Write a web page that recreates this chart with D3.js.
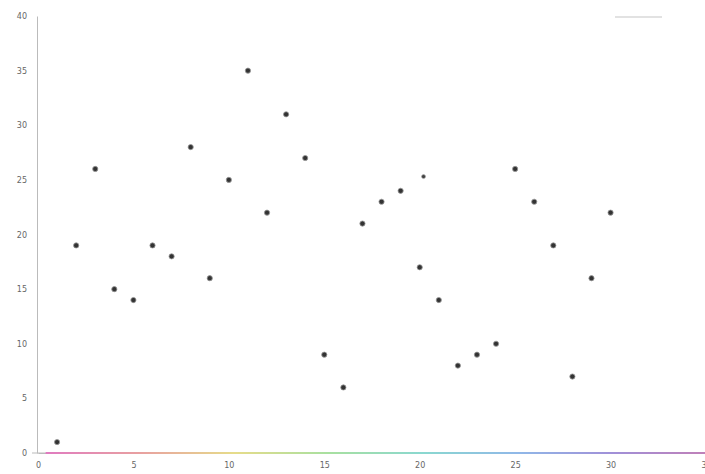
<!DOCTYPE html>
<html>
<head>
<meta charset="utf-8">
<script src="https://cdn.jsdelivr.net/npm/d3@7"></script>
<style>
  body { margin: 0; background: #fff; }
  svg { display: block; }
  .axis text { font-family: "DejaVu Sans", sans-serif; font-size: 8px; fill: #666; }
  .axis path, .axis line { stroke: #bbb; }
</style>
</head>
<body>
<div id="chart"></div>
<script>
// values
var xs = [1, 2, 3, 4, 5, 6, 7, 8, 9, 10, 11, 12, 13, 14, 15,
          16, 17, 18, 19, 20, 21, 22, 23, 24, 25, 26, 27, 28, 29, 30];
var ys = [1, 19, 26, 15, 14, 19, 18, 28, 16, 25, 35, 22, 31, 27, 9,
          6, 21, 23, 24, 17, 14, 8, 9, 10, 26, 23, 19, 7, 16, 22];
// one small odd point sitting near x = 20
var extraX = [20.2];
var extraY = [25.3];

var xTicks = [0, 5, 10, 15, 20, 25, 30, 35];
var yTicks = [0, 5, 10, 15, 20, 25, 30, 35, 40];

// colours of the base line, left to right
var baseColors = ["#e07bc0", "#e8a0a0", "#e6dc8a", "#a8e0a0", "#8ad8d0", "#90b8e8", "#a090d8", "#c080b8"];

const width = 705, height = 474;

const svg = d3.select("#chart").append("svg")
    .attr("width", width)
    .attr("height", height);

var x = d3.scaleLinear().domain([0, 35]).range([38, 706]);
var y = d3.scaleLinear().domain([0, 40]).range([453, 16]);

// y axis
svg.append("g")
    .attr("class", "axis")
    .attr("transform", "translate(37,0)")
    .call(d3.axisLeft(y).tickValues(yTicks).tickSize(0).tickPadding(10))
    .call(g => g.select(".domain").attr("stroke", "#c8c8c8"));

// x axis
svg.append("g")
    .attr("class", "axis")
    .attr("transform", "translate(0,453)")
    .call(d3.axisBottom(x).tickValues(xTicks).tickSize(0).tickPadding(9))
    .call(g => g.select(".domain").attr("stroke", "#c8c8c8"));

// small tick at the origin
svg.append("line")
    .attr("x1", 32).attr("x2", 46)
    .attr("y1", 453).attr("y2", 453)
    .attr("stroke", "#bbb");

// rainbow base line
var grad = svg.append("defs").append("linearGradient")
    .attr("id", "baseGrad")
    .attr("gradientUnits", "userSpaceOnUse")
    .attr("x1", x(0.4)).attr("x2", x(35))
    .attr("y1", 0).attr("y2", 0);

grad.selectAll("stop")
    .data(baseColors)
    .enter()
    .append("stop")
    .attr("offset", function(d, i){ return i / (baseColors.length - 1); })
    .attr("stop-color", function(d){ return d; });

svg.append("line")
    .attr("x1", x(0.4)).attr("x2", x(35))
    .attr("y1", y(0)).attr("y2", y(0))
    .attr("stroke", "url(#baseGrad)")
    .attr("stroke-width", 2);

// legend line, top right (no text)
svg.append("line")
    .attr("x1", 615).attr("x2", 662)
    .attr("y1", 17).attr("y2", 17)
    .attr("stroke", "#d8d8d8")
    .attr("stroke-width", 1.5);

// points
svg.selectAll("circle.pt")
    .data(xs)
    .enter()
    .append("circle")
    .attr("class", "pt")
    .attr("cx", function(d){ return x(d); })
    .attr("cy", function(d, i){ return y(ys[i]); })
    .attr("r", 2.6)
    .attr("fill", "#333")
    .attr("stroke", "#999")
    .attr("stroke-width", 0.8);

svg.selectAll("circle.extra")
    .data(extraX)
    .enter()
    .append("circle")
    .attr("class", "extra")
    .attr("cx", function(d){ return x(d); })
    .attr("cy", function(d, i){ return y(extraY[i]); })
    .attr("r", 2)
    .attr("fill", "#444")
    .attr("stroke", "#aaa")
    .attr("stroke-width", 0.6);
</script>
</body>
</html>
